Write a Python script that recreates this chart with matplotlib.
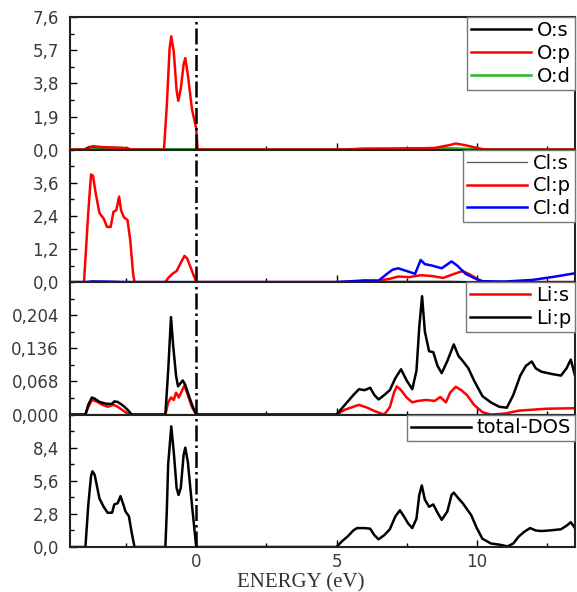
import matplotlib
matplotlib.use("Agg")
import matplotlib.pyplot as plt
from matplotlib.ticker import AutoMinorLocator, MultipleLocator

# ---- data (energy in eV) ----
o_s_e = [-4.5, -4.0, -3.8, -3.5, -3.0, -2.5, -2.3, 5.0, 6.0, 7.0, 8.0, 9.0, 10.0, 11.0, 13.5]
o_s = [0, 0, 0.15, 0.12, 0.1, 0.08, 0, 0, 0.05, 0.05, 0.08, 0.05, 0.02, 0, 0]

o_p_e = [-4.5, -3.9, -3.7, -3.4, -3.0, -2.6, -2.3, -1.15, -1.05, -0.95, -0.89, -0.8,
         -0.7, -0.64, -0.55, -0.45, -0.39, -0.3, -0.15, 0.0, 0.05,
         5.0, 6.5, 7.5, 8.5, 9.0, 9.25, 9.6, 10.0, 10.3, 13.5]
o_p = [0, 0, 0.2, 0.15, 0.12, 0.1, 0, 0, 2.5, 5.8, 6.5, 5.6,
       3.4, 2.8, 3.5, 4.9, 5.25, 4.3, 2.3, 1.2, 0,
       0, 0.03, 0.05, 0.1, 0.25, 0.35, 0.25, 0.1, 0, 0]

o_d_e = [-4.5, 5.0, 6.0, 7.0, 8.0, 9.0, 10.0, 11.0, 13.5]
o_d = [0, 0, 0.03, 0.04, 0.05, 0.04, 0.02, 0, 0]

cl_s_e = [-4.5, -4.0, -3.7, -3.0, -2.3, 5.0, 7.0, 9.0, 10.5, 13.5]
cl_s = [0, 0, 0.04, 0.03, 0, 0, 0.03, 0.03, 0, 0]

cl_p_e = [-4.5, -4.0, -3.85, -3.75, -3.68, -3.58, -3.45, -3.3, -3.18, -3.05, -2.95,
          -2.85, -2.75, -2.68, -2.58, -2.45, -2.35, -2.25, -2.2,
          -1.1, -1.0, -0.85, -0.7, -0.55, -0.42, -0.32, -0.15, 0.0,
          5.0, 5.5, 6.0, 6.5, 6.9, 7.2, 7.6, 8.0, 8.4, 8.8, 9.2, 9.5, 9.8, 10.1, 10.5, 13.5]
cl_p = [0, 0, 2.5, 3.9, 3.85, 3.2, 2.5, 2.3, 2.0, 2.0, 2.55,
        2.6, 3.1, 2.6, 2.35, 2.25, 1.5, 0.3, 0,
        0, 0.15, 0.3, 0.4, 0.7, 0.95, 0.85, 0.4, 0,
        0, 0.02, 0.04, 0.05, 0.12, 0.2, 0.18, 0.25, 0.22, 0.15, 0.3, 0.4, 0.25, 0.05, 0, 0]

cl_d_e = [-4.5, -4.0, -3.7, -2.3, 5.0, 5.5, 6.0, 6.5, 6.8, 7.0, 7.2, 7.5, 7.8, 8.0,
          8.15, 8.4, 8.75, 9.1, 9.3, 9.6, 9.9, 10.2, 11.0, 12.0, 12.8, 13.5]
cl_d = [0, 0, 0.02, 0, 0, 0.03, 0.06, 0.05, 0.3, 0.45, 0.5, 0.4, 0.3, 0.8,
        0.65, 0.6, 0.5, 0.75, 0.6, 0.3, 0.15, 0.03, 0.02, 0.08, 0.2, 0.32]

li_s_e = [-4.5, -3.95, -3.85, -3.72, -3.55, -3.35, -3.15, -2.95, -2.8, -2.6, -2.4,
          -1.1, -1.0, -0.9, -0.8, -0.72, -0.62, -0.5, -0.42, -0.3, -0.15, 0.0,
          5.0, 5.3, 5.8, 6.1, 6.4, 6.7, 6.9, 7.05, 7.15, 7.3, 7.5, 7.7, 7.9, 8.2, 8.5,
          8.7, 8.9, 9.05, 9.25, 9.45, 9.65, 9.9, 10.2, 10.5, 11.0, 11.5, 12.0, 12.5, 13.5]
li_s = [0, 0, 0.015, 0.03, 0.027, 0.02, 0.016, 0.02, 0.016, 0.008, 0,
        0, 0.025, 0.035, 0.03, 0.045, 0.035, 0.05, 0.06, 0.04, 0.015, 0,
        0, 0.01, 0.02, 0.014, 0.006, 0, 0.015, 0.045, 0.058, 0.05, 0.035, 0.025, 0.028, 0.03, 0.028,
        0.036, 0.025, 0.045, 0.057, 0.05, 0.04, 0.02, 0.005, 0, 0.002, 0.008, 0.01, 0.012, 0.013]

li_p_e = [-4.5, -3.95, -3.85, -3.72, -3.6, -3.45, -3.2, -3.0, -2.92, -2.8, -2.6, -2.45, -2.3,
          -1.1, -1.0, -0.9, -0.82, -0.72, -0.65, -0.55, -0.48, -0.4, -0.3, -0.15, 0.0,
          5.0, 5.3, 5.6, 5.8, 6.0, 6.2, 6.35, 6.5, 6.7, 6.9, 7.1, 7.3, 7.5, 7.7, 7.85, 7.95,
          8.05, 8.15, 8.3, 8.45, 8.6, 8.75, 8.95, 9.18, 9.35, 9.5, 9.7, 9.9, 10.2, 10.5, 10.8,
          11.07, 11.3, 11.55, 11.75, 11.96, 12.1, 12.3, 12.7, 13.0, 13.2, 13.35, 13.5]
li_p = [0, 0, 0.02, 0.035, 0.032, 0.026, 0.022, 0.022, 0.027, 0.026, 0.018, 0.01, 0,
        0, 0.09, 0.2, 0.14, 0.08, 0.058, 0.065, 0.07, 0.062, 0.045, 0.02, 0,
        0, 0.02, 0.04, 0.052, 0.05, 0.055, 0.04, 0.031, 0.04, 0.05, 0.075, 0.093, 0.07, 0.052, 0.09, 0.18,
        0.243, 0.17, 0.13, 0.128, 0.1, 0.085, 0.11, 0.144, 0.12, 0.11, 0.095, 0.07, 0.038, 0.025, 0.016,
        0.014, 0.04, 0.08, 0.1, 0.109, 0.095, 0.088, 0.083, 0.08, 0.095, 0.113, 0.08]

tot_e = [-4.5, -3.95, -3.85, -3.75, -3.7, -3.62, -3.45, -3.3, -3.16, -3.0, -2.92, -2.8, -2.7,
         -2.6, -2.52, -2.4, -2.3, -2.2,
         -1.1, -1.05, -1.0, -0.89, -0.8, -0.7, -0.63, -0.55, -0.45, -0.39, -0.3, -0.15, 0.0,
         5.0, 5.2, 5.4, 5.6, 5.73, 6.0, 6.2, 6.35, 6.5, 6.7, 6.9, 7.1, 7.26, 7.4, 7.55, 7.7,
         7.85, 7.95, 8.04, 8.15, 8.3, 8.45, 8.6, 8.75, 8.95, 9.1, 9.18, 9.35, 9.5, 9.65, 9.8,
         10.0, 10.2, 10.5, 10.8, 11.1, 11.3, 11.5, 11.7, 11.9, 12.1, 12.3, 12.6, 13.0, 13.2,
         13.35, 13.5]
tot = [0, 0, 3.5, 6.0, 6.4, 6.1, 4.1, 3.4, 2.9, 2.9, 3.6, 3.7, 4.3,
       3.6, 3.0, 2.6, 1.2, 0,
       0, 3.0, 7.0, 10.2, 8.0, 5.0, 4.4, 5.0, 7.8, 8.4, 7.2, 3.5, 0,
       0, 0.5, 0.9, 1.4, 1.6, 1.6, 1.55, 1.0, 0.65, 1.0, 1.5, 2.6, 3.1, 2.6, 2.0, 1.6,
       2.4, 4.4, 5.2, 4.0, 3.4, 3.6, 2.9, 2.3, 3.0, 4.4, 4.6, 4.1, 3.7, 3.2, 2.7,
       1.6, 0.7, 0.3, 0.2, 0.05, 0.3, 0.9, 1.3, 1.6, 1.4, 1.35, 1.4, 1.5, 1.8,
       2.1, 1.6]

# y tick values / labels per panel (top to bottom)
o_ticks = [0, 1.9, 3.8, 5.7, 7.6]
o_labels = ["0,0", "1,9", "3,8", "5,7", "7,6"]
cl_ticks = [0, 1.2, 2.4, 3.6]
cl_labels = ["0,0", "1,2", "2,4", "3,6"]
li_ticks = [0, 0.068, 0.136, 0.204]
li_labels = ["0,000", "0,068", "0,136", "0,204"]
tot_ticks = [0, 2.8, 5.6, 8.4]
tot_labels = ["0,0", "2,8", "5,6", "8,4"]
x_ticks = [0, 5, 10]
x_labels = ["0", "5", "10"]


def main():
    fig, axes = plt.subplots(4, 1, sharex=True, figsize=(5.77, 5.92), dpi=100)
    fig.subplots_adjust(left=0.1213, right=0.9965, bottom=0.076, top=0.971, hspace=0)

    ax1, ax2, ax3, ax4 = axes
    lw = 1.8
    ax1.plot(o_s_e, o_s, color="black", lw=lw, label="O:s")
    ax1.plot(o_d_e, o_d, color="#22bb22", lw=lw, label="O:d", zorder=2)
    ax1.plot(o_p_e, o_p, color="red", lw=lw, label="O:p", zorder=3)
    ax1.set_ylim(0, 7.6)

    ax2.plot(cl_s_e, cl_s, color="#555555", lw=0.9, label="Cl:s")
    ax2.plot(cl_p_e, cl_p, color="red", lw=lw, label="Cl:p")
    ax2.plot(cl_d_e, cl_d, color="blue", lw=lw, label="Cl:d")
    ax2.set_ylim(0, 4.8)

    ax3.plot(li_s_e, li_s, color="red", lw=lw, label="Li:s")
    ax3.plot(li_p_e, li_p, color="black", lw=lw, label="Li:p")
    ax3.set_ylim(0, 0.272)

    ax4.plot(tot_e, tot, color="black", lw=lw, label="total-DOS")
    ax4.set_ylim(0, 11.2)

    ticks = [(o_ticks, o_labels), (cl_ticks, cl_labels), (li_ticks, li_labels), (tot_ticks, tot_labels)]
    for ax, (tv, tl) in zip(axes, ticks):
        ax.axvline(0, color="black", ls="-.", lw=1.8, zorder=4)
        ax.set_yticks(tv)
        ax.set_yticklabels(tl, fontfamily="DejaVu Sans", fontsize=12, color="#3a3a3a")
        ax.yaxis.set_minor_locator(AutoMinorLocator(2))
        ax.xaxis.set_minor_locator(MultipleLocator(2.5))
        ax.tick_params(which="both", direction="in", top=False, right=False)
        ax.tick_params(axis="y", which="major", length=5, width=1, pad=8)
        ax.tick_params(axis="x", which="major", length=5, width=1, pad=4)
        ax.tick_params(which="minor", length=3, width=1)
        for s in ax.spines.values():
            s.set_linewidth(1.5)
            s.set_color("#222222")
        # order of legend entries as shown
        handles, labels = ax.get_legend_handles_labels()
        if ax is ax1:
            order = ["O:s", "O:p", "O:d"]
            handles = [handles[labels.index(k)] for k in order]
            labels = order
        ax.legend(handles, labels, loc="upper right", borderaxespad=0, fancybox=False,
                  edgecolor="#777777", framealpha=1, handlelength=3.1, labelspacing=0.2,
                  borderpad=0.2, handletextpad=0.3,
                  prop={"family": "DejaVu Sans", "size": 14})

    ax4.set_xlim(-4.5, 13.5)
    ax4.set_xticks(x_ticks)
    ax4.set_xticklabels(x_labels, fontfamily="DejaVu Sans", fontsize=12, color="#3a3a3a")
    fig.text(0.522, 0.015, "ENERGY (eV)", ha="center", va="center",
             fontfamily="Liberation Serif", fontsize=15, color="#333333")

    fig.savefig("out.png", dpi=100)


if __name__ == "__main__":
    main()
